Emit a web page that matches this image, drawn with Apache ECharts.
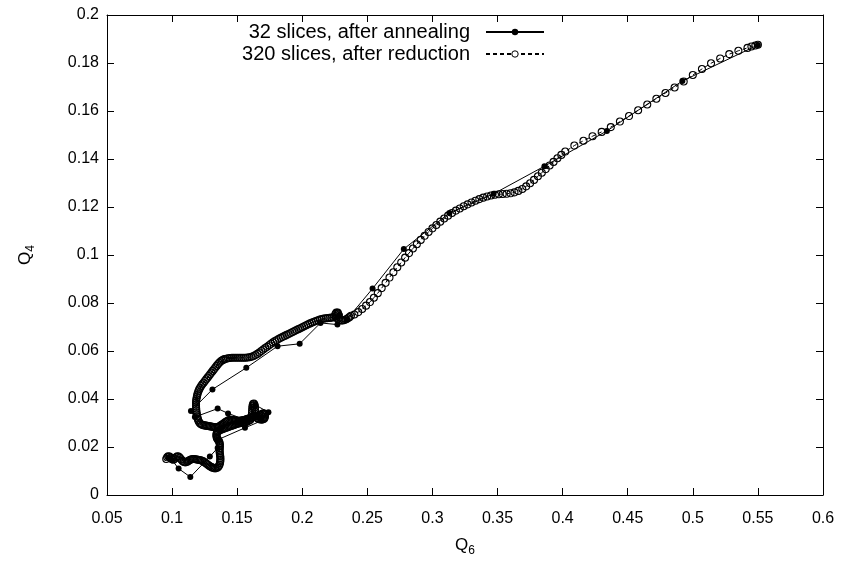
<!DOCTYPE html>
<html>
<head>
<meta charset="utf-8">
<script src="https://cdn.jsdelivr.net/npm/echarts@6/dist/echarts.min.js"></script>
<style>
html, body { margin: 0; padding: 0; background: #fff; }
#chart { width: 841px; height: 563px; }
</style>
</head>
<body>
<div id="chart"></div>
<script>
// Q6 / Q4 for the 32 slices (after annealing)
var q6Annealed = [0.097, 0.100, 0.105, 0.114, 0.129, 0.135, 0.135, 0.156, 0.169, 0.174, 0.164, 0.158,
	0.143, 0.135, 0.1175, 0.1145, 0.131, 0.157, 0.181, 0.198, 0.214, 0.227, 0.229, 0.234,
	0.254, 0.278, 0.313, 0.347, 0.386, 0.434, 0.492, 0.550];
var q4Annealed = [0.0155, 0.0145, 0.011, 0.0075, 0.016, 0.0196, 0.023, 0.028, 0.031, 0.0345, 0.0375, 0.031,
	0.034, 0.036, 0.0325, 0.035, 0.044, 0.053, 0.062, 0.063, 0.0717, 0.071, 0.075, 0.073,
	0.086, 0.1025, 0.1175, 0.1255, 0.137, 0.1517, 0.1725, 0.1875];

// Q6 / Q4 for the 320 slices (after reduction)
var q6Reduced = [
	0.0955, 0.0962, 0.0970, 0.0980, 0.0990, 0.1000, 0.1010, 0.1020, 0.1030, 0.1040, 0.1050, 0.1060,
	0.1070, 0.1080, 0.1090, 0.1100, 0.1110, 0.1120, 0.1130, 0.1140, 0.1150, 0.1160, 0.1170, 0.1180,
	0.1190, 0.1200, 0.1210, 0.1220, 0.1230, 0.1240, 0.1250, 0.1260, 0.1270, 0.1280, 0.1290, 0.1300,
	0.1310, 0.1320, 0.1330, 0.1340, 0.1350, 0.1358, 0.1364, 0.1368, 0.1370, 0.1371, 0.1371, 0.1370,
	0.1368, 0.1366, 0.1365, 0.1365, 0.1366, 0.1367, 0.1367, 0.1365, 0.1361, 0.1355, 0.1349, 0.1344,
	0.1341, 0.1340, 0.1342, 0.1346, 0.1352,
	0.1360, 0.1370, 0.1380, 0.1390, 0.1400, 0.1410, 0.1420, 0.1430, 0.1440, 0.1450, 0.1460, 0.1470,
	0.1480, 0.1490, 0.1500, 0.1510, 0.1520, 0.1530, 0.1540, 0.1550, 0.1560, 0.1570, 0.1580, 0.1590,
	0.1600, 0.1608, 0.1612, 0.1614, 0.1615, 0.1616, 0.1618, 0.1622, 0.1628, 0.1633, 0.1636, 0.1637,
	0.1638, 0.1640, 0.1645, 0.1652, 0.1660, 0.1670, 0.1680, 0.1690, 0.1700, 0.1708, 0.1713, 0.1714,
	0.1710, 0.1702, 0.1692, 0.1682, 0.1672,
	0.1660, 0.1650, 0.1640, 0.1630, 0.1620, 0.1610, 0.1600, 0.1590, 0.1580, 0.1570, 0.1560, 0.1550,
	0.1540, 0.1530, 0.1520, 0.1510, 0.1500, 0.1490, 0.1480, 0.1470, 0.1460, 0.1450, 0.1440, 0.1430,
	0.1420, 0.1410, 0.1400, 0.1390, 0.1380, 0.1370, 0.1360, 0.1350, 0.1340, 0.1330, 0.1320, 0.1310,
	0.1300, 0.1290, 0.1280, 0.1270, 0.1260, 0.1250, 0.1240, 0.1230, 0.1220, 0.1212, 0.1205, 0.1200,
	0.1196, 0.1193, 0.1190, 0.1188, 0.1186, 0.1185, 0.1184, 0.1184, 0.1184, 0.1185, 0.1187, 0.1190,
	0.1193, 0.1197, 0.1202, 0.1208, 0.1215, 0.1223, 0.1232, 0.1242, 0.1252, 0.1262, 0.1272, 0.1282,
	0.1292, 0.1302, 0.1312, 0.1322, 0.1332, 0.1342, 0.1352, 0.1362, 0.1372, 0.1382, 0.1392, 0.1402,
	0.1415, 0.1430, 0.1445, 0.1460, 0.1475, 0.1490, 0.1505, 0.1520, 0.1535, 0.1550, 0.1565, 0.1580,
	0.1595, 0.1610, 0.1625, 0.1640, 0.1655, 0.1670, 0.1685, 0.1700, 0.1715, 0.1730, 0.1745, 0.1760,
	0.1775, 0.1790, 0.1805, 0.1820, 0.1835, 0.1850, 0.1865, 0.1880, 0.1895, 0.1910, 0.1925, 0.1940,
	0.1955, 0.1970, 0.1985, 0.2000, 0.2015, 0.2030, 0.2045, 0.2060, 0.2075, 0.2090, 0.2105, 0.2120,
	0.2135, 0.2150, 0.2165, 0.2180, 0.2195, 0.2210, 0.2225, 0.2240, 0.2255, 0.2268, 0.2275, 0.2272,
	0.2262, 0.2255, 0.2256, 0.2263, 0.2273, 0.2285, 0.2298, 0.2311, 0.2324, 0.2337, 0.2350, 0.2362,
	0.2374, 0.240, 0.243, 0.246, 0.249, 0.252, 0.255, 0.258, 0.261, 0.264, 0.267, 0.270,
	0.273, 0.276, 0.279, 0.282, 0.285, 0.288, 0.291, 0.294, 0.297, 0.300, 0.303, 0.306,
	0.309, 0.312, 0.315, 0.318, 0.321, 0.324, 0.327, 0.330, 0.333, 0.336, 0.339, 0.342,
	0.345, 0.348, 0.351, 0.354, 0.357, 0.360, 0.363, 0.366, 0.369, 0.372, 0.375, 0.378,
	0.381, 0.384, 0.387, 0.390, 0.393, 0.396, 0.399, 0.402, 0.409, 0.416, 0.423, 0.430,
	0.437, 0.444, 0.451, 0.458, 0.465, 0.472, 0.479, 0.486, 0.493, 0.500, 0.507, 0.514,
	0.521, 0.528, 0.535, 0.542, 0.545, 0.548, 0.550];
var q4Reduced = [
	0.0150, 0.0157, 0.0161, 0.0160, 0.0155, 0.0149, 0.0147, 0.0151, 0.0157, 0.0161, 0.0160, 0.0155,
	0.0148, 0.0142, 0.0138, 0.0136, 0.0137, 0.0140, 0.0144, 0.0147, 0.0149, 0.0150, 0.0150, 0.0149,
	0.0148, 0.0147, 0.0146, 0.0145, 0.0143, 0.0140, 0.0136, 0.0132, 0.0128, 0.0124, 0.0120, 0.0117,
	0.0114, 0.0112, 0.0111, 0.0112, 0.0115, 0.0120, 0.0126, 0.0133, 0.0140, 0.0147, 0.0154, 0.0161,
	0.0168, 0.0175, 0.0182, 0.0189, 0.0196, 0.0203, 0.0210, 0.0217, 0.0223, 0.0228, 0.0233, 0.0238,
	0.0244, 0.0250, 0.0256, 0.0261, 0.0265,
	0.0268, 0.0271, 0.0273, 0.0275, 0.0277, 0.0279, 0.0281, 0.0283, 0.0285, 0.0287, 0.0289, 0.0291,
	0.0293, 0.0295, 0.0297, 0.0298, 0.0299, 0.0300, 0.0300, 0.0301, 0.0302, 0.0304, 0.0307, 0.0310,
	0.0313, 0.0322, 0.0332, 0.0342, 0.0352, 0.0362, 0.0372, 0.0379, 0.0381, 0.0376, 0.0367, 0.0357,
	0.0347, 0.0337, 0.0328, 0.0322, 0.0318, 0.0316, 0.0315, 0.0315, 0.0316, 0.0319, 0.0325, 0.0332,
	0.0338, 0.0340, 0.0338, 0.0335, 0.0333,
	0.0330, 0.0330, 0.0329, 0.0327, 0.0325, 0.0323, 0.0321, 0.0319, 0.0317, 0.0315, 0.0313, 0.0312,
	0.0311, 0.0310, 0.0309, 0.0309, 0.0309, 0.0310, 0.0311, 0.0312, 0.0313, 0.0313, 0.0312, 0.0310,
	0.0307, 0.0304, 0.0300, 0.0296, 0.0292, 0.0288, 0.0285, 0.0283, 0.0282, 0.0282, 0.0283, 0.0284,
	0.0285, 0.0286, 0.0287, 0.0288, 0.0289, 0.0290, 0.0291, 0.0293, 0.0296, 0.0300, 0.0306, 0.0313,
	0.0320, 0.0328, 0.0336, 0.0344, 0.0352, 0.0360, 0.0368, 0.0376, 0.0384, 0.0392, 0.0400, 0.0408,
	0.0416, 0.0424, 0.0432, 0.0440, 0.0447, 0.0454, 0.0461, 0.0468, 0.0475, 0.0482, 0.0489, 0.0496,
	0.0503, 0.0510, 0.0517, 0.0524, 0.0531, 0.0538, 0.0545, 0.0551, 0.0556, 0.0560, 0.0563, 0.0566,
	0.0568, 0.0570, 0.0571, 0.0572, 0.0572, 0.0572, 0.0572, 0.0572, 0.0572, 0.0572, 0.0572, 0.0573,
	0.0574, 0.0576, 0.0579, 0.0583, 0.0588, 0.0594, 0.0600, 0.0606, 0.0612, 0.0618, 0.0624, 0.0630,
	0.0636, 0.0641, 0.0646, 0.0651, 0.0655, 0.0659, 0.0663, 0.0667, 0.0671, 0.0675, 0.0679, 0.0683,
	0.0687, 0.0691, 0.0695, 0.0699, 0.0703, 0.0707, 0.0711, 0.0715, 0.0719, 0.0722, 0.0725, 0.0728,
	0.0731, 0.0733, 0.0735, 0.0736, 0.0737, 0.0738, 0.0739, 0.0741, 0.0744, 0.0749, 0.0755, 0.0760,
	0.0760, 0.0754, 0.0746, 0.0739, 0.0733, 0.0729, 0.0727, 0.0727, 0.0729, 0.0732, 0.0736, 0.0741,
	0.0747, 0.0752, 0.0762, 0.0775, 0.0789, 0.0804, 0.0822, 0.0841, 0.0862, 0.0884, 0.0906, 0.0928,
	0.0949, 0.0969, 0.0989, 0.1008, 0.1027, 0.1045, 0.1063, 0.1080, 0.1096, 0.1111, 0.1125, 0.1139,
	0.1152, 0.1164, 0.1175, 0.1185, 0.1194, 0.1203, 0.1211, 0.1219, 0.1226, 0.1233, 0.1239, 0.1244,
	0.1248, 0.1251, 0.1253, 0.1254, 0.1255, 0.1257, 0.1261, 0.1267, 0.1275, 0.1286, 0.1299, 0.1313,
	0.1328, 0.1343, 0.1358, 0.1373, 0.1388, 0.1403, 0.1417, 0.1431, 0.1456, 0.1476, 0.1495, 0.1513,
	0.1533, 0.1556, 0.1579, 0.1603, 0.1627, 0.1651, 0.1675, 0.1698, 0.1723, 0.1750, 0.1775, 0.1799,
	0.1819, 0.1837, 0.1851, 0.1863, 0.1869, 0.1873, 0.1876];

var xTicks = [0.05, 0.6, 0.05];   // min, max, step
var yTicks = [0, 0.2, 0.02];

function zip(xs, ys) {
	var out = [];
	for (var i = 0; i < Math.min(xs.length, ys.length); i++) {
		out.push([xs[i], ys[i]]);
	}
	return out;
}

var myChart = echarts.init(document.getElementById('chart'), null, { renderer: 'canvas' });

var FONT = 'Liberation Sans, Arial, sans-serif';
var tickFmt = function(v) { return String(+v.toFixed(2)); };

var baseX = {
	type: 'value', min: xTicks[0], max: xTicks[1], interval: xTicks[2],
	axisLine: { show: true, onZero: false, lineStyle: { color: '#000', width: 1 } },
	axisTick: { show: true, inside: true, length: 7, lineStyle: { color: '#000' } },
	splitLine: { show: false }
};
var baseY = {
	type: 'value', min: yTicks[0], max: yTicks[1], interval: yTicks[2],
	axisLine: { show: true, onZero: false, lineStyle: { color: '#000', width: 1 } },
	axisTick: { show: true, inside: true, length: 7, lineStyle: { color: '#000' } },
	splitLine: { show: false }
};

var subRich = {
	q: { fontFamily: FONT, fontSize: 17, color: '#000' },
	s: { fontFamily: FONT, fontSize: 12, color: '#000', verticalAlign: 'bottom', padding: [12, 0, 0, 0] }
};

option = {
	animation: false,
	backgroundColor: '#fff',
	textStyle: { fontFamily: FONT },
	grid: { left: 107, right: 18, top: 15, bottom: 68, containLabel: false },
	legend: {
		orient: 'vertical',
		right: 291,
		top: 17,
		align: 'right',
		itemGap: 2,
		itemWidth: 58,
		itemHeight: 8,
		textStyle: { fontFamily: FONT, fontSize: 20, lineHeight: 20, color: '#000', padding: [0, 11, 0, 0] },
		data: [
			{ name: '32 slices, after annealing' },
			{ name: '320 slices, after reduction', itemStyle: { color: '#fff', borderColor: '#000', borderWidth: 1 } }
		]
	},
	xAxis: [
		Object.assign({}, baseX, {
			position: 'bottom',
			name: '{q|Q}{s|6}',
			nameLocation: 'middle',
			nameGap: 38,
			nameTextStyle: { rich: subRich },
			axisLabel: { fontFamily: FONT, fontSize: 16, color: '#000', margin: 16, formatter: tickFmt }
		}),
		Object.assign({}, baseX, { position: 'top', axisLabel: { show: false } })
	],
	yAxis: [
		Object.assign({}, baseY, {
			position: 'left',
			name: '{q|Q}{s|4}',
			nameLocation: 'middle',
			nameGap: 70,
			nameTextStyle: { rich: subRich },
			axisLabel: { fontFamily: FONT, fontSize: 16, color: '#000', margin: 8, formatter: tickFmt }
		}),
		Object.assign({}, baseY, { position: 'right', axisLabel: { show: false } })
	],
	series: [
		{
			name: '320 slices, after reduction',
			type: 'line',
			data: zip(q6Reduced, q4Reduced),
			symbol: 'circle',
			symbolSize: 7,
			showAllSymbol: true,
			z: 2,
			itemStyle: { color: 'rgba(255,255,255,0)', borderColor: '#000', borderWidth: 1.1 },
			lineStyle: { color: '#000', width: 1, type: [4, 3] },
			emphasis: { disabled: true }
		},
		{
			name: '32 slices, after annealing',
			type: 'line',
			data: zip(q6Annealed, q4Annealed),
			symbol: 'circle',
			symbolSize: 6,
			showAllSymbol: true,
			z: 3,
			itemStyle: { color: '#000' },
			lineStyle: { color: '#000', width: 1 },
			emphasis: { disabled: true }
		}
	]
};

myChart.setOption(option);
</script>
</body>
</html>
